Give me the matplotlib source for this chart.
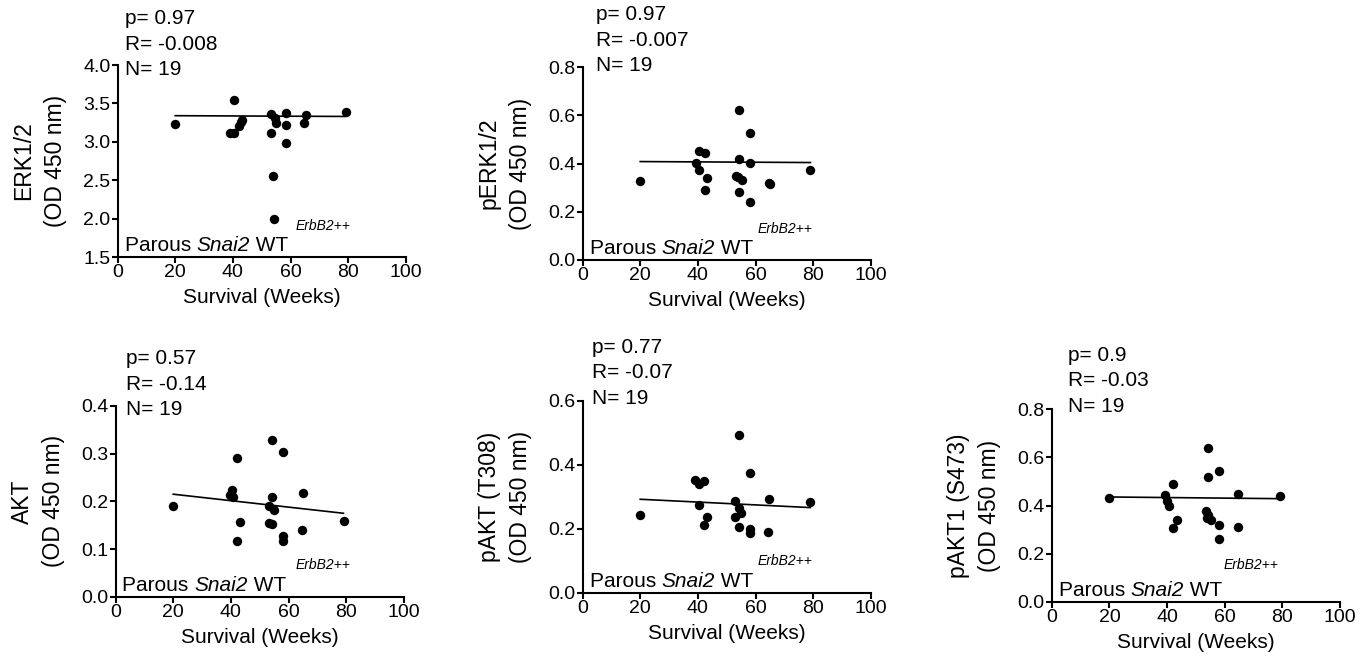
import numpy as np
import matplotlib
matplotlib.use("Agg")
import matplotlib.pyplot as plt
from matplotlib.transforms import offset_copy

plt.rcParams['font.family'] = ['Liberation Sans', 'DejaVu Sans']

# ---- data ----
erk_x = [19.9, 40.3, 39.1, 40.5, 42.8, 42.2, 43.2, 53.3, 54.5, 55.0, 53.3, 53.9, 54.1,
         58.3, 58.3, 58.3, 65.2, 64.6, 79.2]
erk_y = [3.23, 3.55, 3.11, 3.11, 3.26, 3.20, 3.28, 3.36, 3.31, 3.25, 3.11, 2.55, 2.00,
         3.37, 3.22, 2.99, 3.35, 3.25, 3.39]

perk_x = [20.1, 40.3, 42.4, 39.2, 40.3, 43.2, 42.4, 54.2, 54.4, 53.3, 54.0, 55.4, 54.2,
          58.2, 58.2, 58.2, 64.6, 65.1, 79.0]
perk_y = [0.327, 0.450, 0.443, 0.403, 0.375, 0.341, 0.289, 0.621, 0.419, 0.348, 0.345,
          0.333, 0.282, 0.527, 0.403, 0.240, 0.320, 0.313, 0.375]

akt_x = [20.0, 40.4, 39.6, 40.8, 42.2, 43.3, 42.2, 54.1, 54.3, 53.1, 55.1, 53.1, 54.3,
         58.1, 58.1, 58.1, 64.9, 64.5, 79.1]
akt_y = [0.190, 0.224, 0.213, 0.210, 0.290, 0.156, 0.117, 0.328, 0.210, 0.191, 0.181,
         0.155, 0.153, 0.304, 0.128, 0.116, 0.218, 0.140, 0.158]

pakt_x = [19.8, 38.9, 40.3, 42.1, 40.3, 43.2, 42.1, 54.1, 53.0, 54.1, 55.0, 53.0, 54.1,
          58.1, 58.1, 58.1, 64.8, 64.4, 78.9]
pakt_y = [0.242, 0.353, 0.341, 0.350, 0.274, 0.237, 0.213, 0.494, 0.287, 0.266, 0.248,
          0.237, 0.206, 0.374, 0.200, 0.187, 0.292, 0.190, 0.283]

pakt1_x = [20.0, 39.3, 40.0, 40.6, 42.2, 43.4, 42.2, 54.1, 54.3, 58.1, 53.5, 54.1, 53.7,
           55.3, 58.1, 58.1, 64.7, 64.5, 79.2]
pakt1_y = [0.433, 0.443, 0.420, 0.400, 0.489, 0.342, 0.308, 0.640, 0.517, 0.544, 0.378,
           0.362, 0.350, 0.342, 0.318, 0.262, 0.450, 0.311, 0.439]

# fitted lines as drawn (value at x=20 and x=79)
fit_x = [20, 79]
erk_fit = [3.34, 3.33]
perk_fit = [0.408, 0.404]
akt_fit = [0.215, 0.175]
pakt_fit = [0.292, 0.266]
pakt1_fit = [0.436, 0.429]

stats = [["p= 0.97", "R= -0.008", "N= 19"],
         ["p= 0.97", "R= -0.007", "N= 19"],
         ["p= 0.57", "R= -0.14", "N= 19"],
         ["p= 0.77", "R= -0.07", "N= 19"],
         ["p= 0.9", "R= -0.03", "N= 19"]]

ylabels = ["ERK1/2\n(OD 450 nm)", "pERK1/2\n(OD 450 nm)", "AKT\n(OD 450 nm)",
           "pAKT (T308)\n(OD 450 nm)", "pAKT1 (S473)\n(OD 450 nm)"]

W, H = 1371, 664
fig = plt.figure(figsize=(W / 100, H / 100), dpi=100)

# panel layout in pixels: left, top, bottom; text offsets
panels = [
    dict(box=(117.5, 65, 257), ylim=(1.5, 4.0), step=0.5, tdx=7.5, tdy=-10, edx=0.617, edy=0.14),
    dict(box=(582.5, 67, 260), ylim=(0.0, 0.8), step=0.2, tdx=13.5, tdy=-4, edx=0.608, edy=0.141),
    dict(box=(115.5, 406, 596.7), ylim=(0.0, 0.4), step=0.1, tdx=10.5, tdy=-9, edx=0.623, edy=0.144),
    dict(box=(582.5, 400.7, 592.7), ylim=(0.0, 0.6), step=0.2, tdx=9, tdy=-3, edx=0.608, edy=0.144),
    dict(box=(1051.7, 409.3, 602), ylim=(0.0, 0.8), step=0.2, tdx=16.6, tdy=-2.5, edx=0.595, edy=0.17),
]
xs = [erk_x, perk_x, akt_x, pakt_x, pakt1_x]
ys = [erk_y, perk_y, akt_y, pakt_y, pakt1_y]
fits = [erk_fit, perk_fit, akt_fit, pakt_fit, pakt1_fit]
axw = 288.5

for i, p in enumerate(panels):
    left, top, bot = p['box']
    ax = fig.add_axes([left / W, (H - bot) / H, axw / W, (bot - top) / H])
    ax.scatter(xs[i], ys[i], s=46, color='black', zorder=3, linewidths=0)
    ax.plot(fit_x, fits[i], color='black', lw=1.2, zorder=2)
    ax.set_xlim(0, 100)
    lo, hi = p['ylim']
    ax.set_ylim(lo, hi)
    ax.set_xticks([0, 20, 40, 60, 80, 100])
    yt = np.arange(lo, hi + p['step'] / 2, p['step'])
    ax.set_yticks(yt)
    ax.set_yticklabels([f"{v:.1f}" for v in yt])
    for s in ['top', 'right']:
        ax.spines[s].set_visible(False)
    for s in ['left', 'bottom']:
        ax.spines[s].set_linewidth(1.5)
    ax.tick_params(direction='out', length=4, width=1.5, labelsize=14, pad=1)
    ax.set_xlabel("Survival (Weeks)", fontsize=15, labelpad=5)
    ax.set_ylabel(ylabels[i], fontsize=16.5, labelpad=12, linespacing=1.45)
    ax.patch.set_alpha(0)

    # stats text above the panel
    for j, line in enumerate(stats[i]):
        tr = offset_copy(ax.transAxes, fig=fig, x=p['tdx'] * 0.72,
                         y=(p['tdy'] + (2 - j) * 25.5) * 0.72, units='points')
        ax.text(0, 1, line, transform=tr, fontsize=15, ha='left', va='baseline', clip_on=False)

    # "Parous Snai2 WT" with italic gene name
    tr = offset_copy(ax.transAxes, fig=fig, x=7 * 0.72, y=6 * 0.72, units='points')
    t1 = ax.text(0, 0, "Parous ", transform=tr, fontsize=15, ha='left', va='baseline')
    t2 = ax.annotate("Snai2", xy=(1, 0), xycoords=t1, fontsize=15, style='italic',
                     ha='left', va='bottom')
    ax.annotate(" WT", xy=(1, 0), xycoords=t2, fontsize=15, ha='left', va='bottom')

    ax.text(p['edx'], p['edy'], "ErbB2++", transform=ax.transAxes, fontsize=10,
            style='italic', ha='left', va='baseline')

fig.savefig("out.png", dpi=100)
